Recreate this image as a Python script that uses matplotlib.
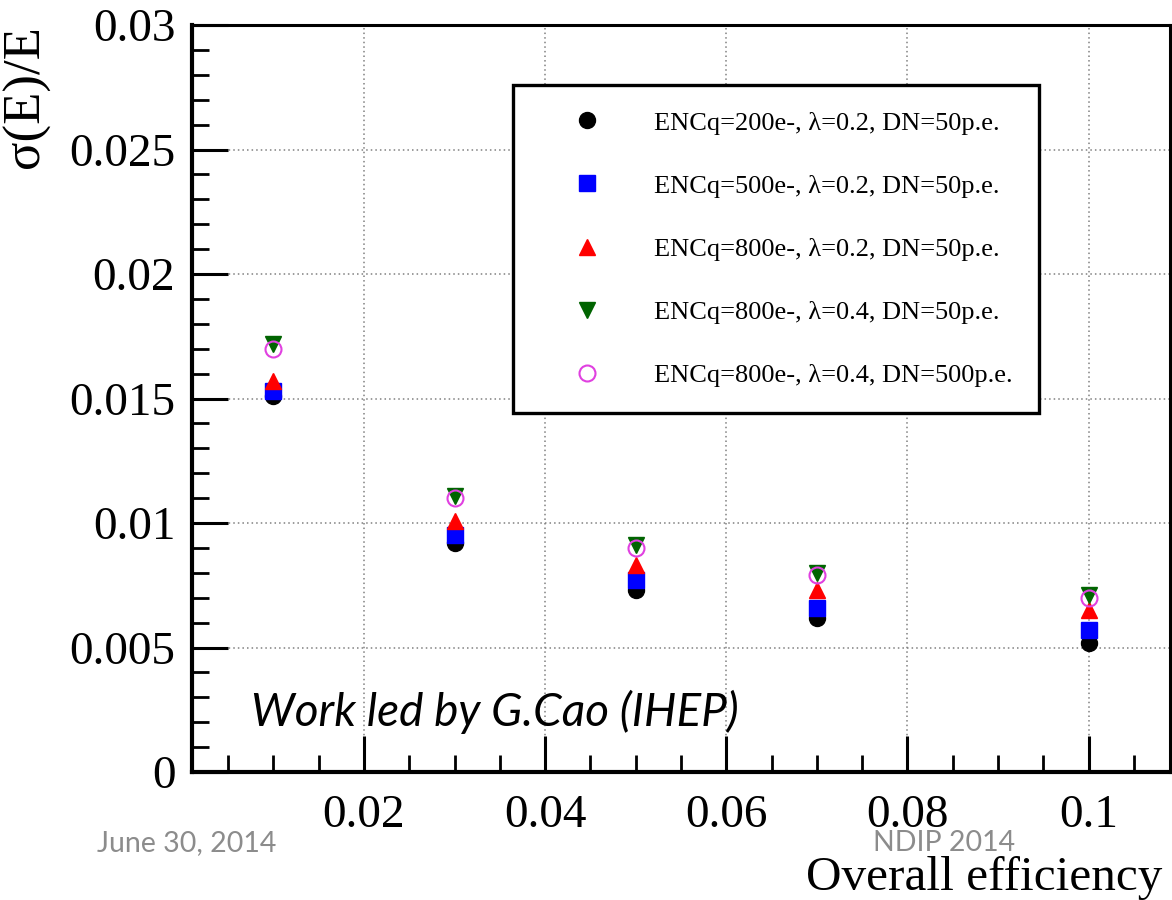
import matplotlib
matplotlib.use("Agg")
import matplotlib.pyplot as plt
from matplotlib.ticker import MultipleLocator, FormatStrFormatter

# overall photon detection efficiency
efficiency = [0.01, 0.03, 0.05, 0.07, 0.10]

# energy resolution for each electronics / noise configuration
res_enc200_l02_dn50 = [0.0151, 0.0092, 0.0073, 0.0062, 0.0052]
res_enc500_l02_dn50 = [0.0153, 0.0095, 0.0077, 0.0066, 0.0057]
res_enc800_l02_dn50 = [0.0157, 0.0101, 0.0083, 0.0073, 0.0065]
res_enc800_l04_dn50 = [0.0172, 0.0111, 0.0091, 0.0080, 0.0071]
res_enc800_l04_dn500 = [0.0170, 0.0110, 0.0090, 0.0079, 0.0070]

labels = [
    "ENCq=200e-, λ=0.2, DN=50p.e.",
    "ENCq=500e-, λ=0.2, DN=50p.e.",
    "ENCq=800e-, λ=0.2, DN=50p.e.",
    "ENCq=800e-, λ=0.4, DN=50p.e.",
    "ENCq=800e-, λ=0.4, DN=500p.e.",
]

serif = "Liberation Serif"

fig = plt.figure(figsize=(11.72, 9), dpi=100)
ax = fig.add_axes([0.1638, 0.1422, 0.8345, 0.8300])

ms = 11.5
ax.plot(efficiency, res_enc200_l02_dn50, "o", color="black", ms=ms, label=labels[0])
ax.plot(efficiency, res_enc500_l02_dn50, "s", color="blue", ms=ms - 0.5, label=labels[1])
ax.plot(efficiency, res_enc800_l02_dn50, "^", color="red", ms=ms, label=labels[2])
ax.plot(efficiency, res_enc800_l04_dn50, "v", color="#006400", ms=ms, label=labels[3])
ax.plot(efficiency, res_enc800_l04_dn500, "o", mfc="none", mec="#e040e0", mew=1.5,
        ms=ms, label=labels[4])

ax.set_xlim(0.001, 0.109)
ax.set_ylim(0, 0.03)

ax.xaxis.set_major_locator(MultipleLocator(0.02))
ax.xaxis.set_minor_locator(MultipleLocator(0.005))
ax.yaxis.set_major_locator(MultipleLocator(0.005))
ax.yaxis.set_minor_locator(MultipleLocator(0.001))
ax.xaxis.set_major_formatter(FormatStrFormatter("%g"))
ax.yaxis.set_major_formatter(FormatStrFormatter("%g"))

ax.tick_params(which="major", direction="in", length=26, width=2.2,
               labelsize=34, pad=12)
ax.tick_params(which="minor", direction="in", length=12, width=2.0)
ax.tick_params(axis="x", which="major", pad=16)
for lab in ax.get_xticklabels() + ax.get_yticklabels():
    lab.set_fontfamily(serif)

for side in ["left", "bottom"]:
    ax.spines[side].set_linewidth(3)
for side in ["top", "right"]:
    ax.spines[side].set_linewidth(2.2)

ax.grid(True, which="major", color="0.5", linestyle=(0, (1, 2)), linewidth=1.1)
ax.set_axisbelow(True)

ax.set_xlabel("Overall efficiency", fontfamily=serif, fontsize=35.5, ha="right")
ax.xaxis.set_label_coords(0.992, -0.112)
ax.set_ylabel("σ(E)/E", fontfamily=serif, fontsize=38, loc="top", labelpad=14)

leg = ax.legend(loc="upper left", bbox_to_anchor=(0.328, 0.92),
                prop={"family": serif, "size": 19}, frameon=True, fancybox=False,
                edgecolor="black", framealpha=1, borderpad=1.0, labelspacing=1.5,
                handlelength=3.6, handletextpad=0.75, borderaxespad=0,
                numpoints=1)
leg.get_frame().set_linewidth(2.4)

ax.text(0.06, 0.08, "Work led by G.Cao (IHEP)", transform=ax.transAxes,
        fontfamily="Lato", style="italic", fontsize=33, va="center")

fig.text(0.083, 0.063, "June 30, 2014", fontfamily="Lato", fontsize=20.5,
         color="#8c8c8c", va="center")
fig.text(0.745, 0.063, "NDIP 2014", fontfamily="Lato", fontsize=20.5,
         color="#8c8c8c", va="center")

fig.savefig("out.png", dpi=100)
